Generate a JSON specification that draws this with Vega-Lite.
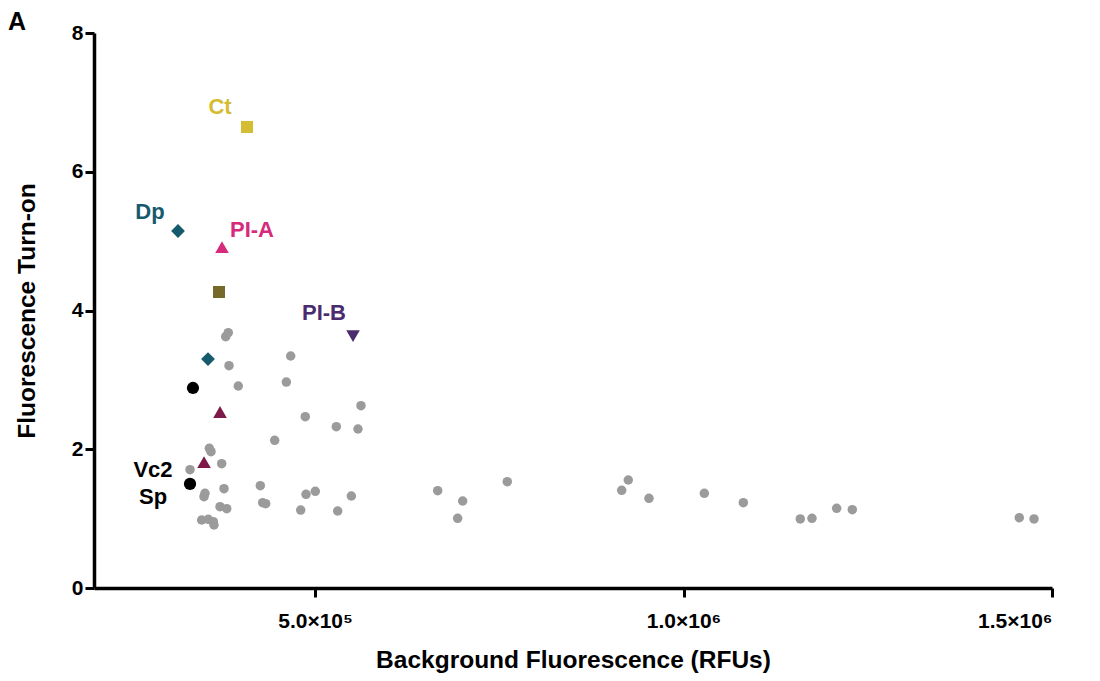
{
  "$schema": "https://vega.github.io/schema/vega-lite/v6.json",
  "width": 958,
  "height": 555,
  "autosize": {"type": "none"},
  "padding": {"left": 94, "top": 33, "right": 48, "bottom": 93},
  "background": "white",
  "config": {
    "view": {"stroke": null},
    "font": "Liberation Sans",
    "axis": {
      "grid": false,
      "domainColor": "black",
      "domainWidth": 3.5,
      "tickColor": "black",
      "tickWidth": 3,
      "tickSize": 9,
      "labelColor": "black",
      "labelFont": "Liberation Sans",
      "labelFontWeight": "bold",
      "labelFontSize": 21,
      "titleColor": "black",
      "titleFont": "Liberation Sans",
      "titleFontWeight": "bold",
      "titleFontSize": 24.5
    }
  },
  "title": {
    "text": "A",
    "anchor": "start",
    "frame": "group",
    "fontSize": 25,
    "fontWeight": "bold",
    "font": "Liberation Sans",
    "color": "black",
    "dx": -86,
    "dy": 13,
    "offset": 0
  },
  "datasets": {
    "pts": [
      {"x": 378700, "y": 3.622, "g": "other"},
      {"x": 382200, "y": 3.680, "g": "other"},
      {"x": 383200, "y": 3.204, "g": "other"},
      {"x": 395800, "y": 2.912, "g": "other"},
      {"x": 466900, "y": 3.344, "g": "other"},
      {"x": 461000, "y": 2.969, "g": "other"},
      {"x": 562300, "y": 2.628, "g": "other"},
      {"x": 486700, "y": 2.469, "g": "other"},
      {"x": 528800, "y": 2.325, "g": "other"},
      {"x": 558200, "y": 2.292, "g": "other"},
      {"x": 445200, "y": 2.129, "g": "other"},
      {"x": 356500, "y": 2.014, "g": "other"},
      {"x": 358800, "y": 1.965, "g": "other"},
      {"x": 373300, "y": 1.792, "g": "other"},
      {"x": 330300, "y": 1.705, "g": "other"},
      {"x": 376400, "y": 1.431, "g": "other"},
      {"x": 425700, "y": 1.475, "g": "other"},
      {"x": 350600, "y": 1.365, "g": "other"},
      {"x": 349300, "y": 1.316, "g": "other"},
      {"x": 487700, "y": 1.351, "g": "other"},
      {"x": 500300, "y": 1.394, "g": "other"},
      {"x": 549200, "y": 1.326, "g": "other"},
      {"x": 371000, "y": 1.172, "g": "other"},
      {"x": 380100, "y": 1.143, "g": "other"},
      {"x": 428900, "y": 1.230, "g": "other"},
      {"x": 433000, "y": 1.215, "g": "other"},
      {"x": 480500, "y": 1.124, "g": "other"},
      {"x": 530700, "y": 1.110, "g": "other"},
      {"x": 346100, "y": 0.980, "g": "other"},
      {"x": 355100, "y": 0.990, "g": "other"},
      {"x": 361900, "y": 0.956, "g": "other"},
      {"x": 362800, "y": 0.908, "g": "other"},
      {"x": 666400, "y": 1.403, "g": "other"},
      {"x": 700300, "y": 1.254, "g": "other"},
      {"x": 693500, "y": 1.005, "g": "other"},
      {"x": 760800, "y": 1.532, "g": "other"},
      {"x": 916100, "y": 1.408, "g": "other"},
      {"x": 925000, "y": 1.557, "g": "other"},
      {"x": 953100, "y": 1.293, "g": "other"},
      {"x": 1028200, "y": 1.365, "g": "other"},
      {"x": 1081100, "y": 1.230, "g": "other"},
      {"x": 1158400, "y": 0.995, "g": "other"},
      {"x": 1174300, "y": 1.005, "g": "other"},
      {"x": 1207800, "y": 1.149, "g": "other"},
      {"x": 1229000, "y": 1.129, "g": "other"},
      {"x": 1455600, "y": 1.013, "g": "other"},
      {"x": 1475600, "y": 0.995, "g": "other"},
      {"x": 407600, "y": 6.645, "g": "Ct"},
      {"x": 314000, "y": 5.146, "g": "Dp"},
      {"x": 373700, "y": 4.915, "g": "PI-A"},
      {"x": 369600, "y": 4.267, "g": "olive"},
      {"x": 551500, "y": 3.632, "g": "PI-B"},
      {"x": 354700, "y": 3.300, "g": "Dp"},
      {"x": 334300, "y": 2.883, "g": "black"},
      {"x": 371000, "y": 2.537, "g": "wine"},
      {"x": 349300, "y": 1.816, "g": "wine"},
      {"x": 330300, "y": 1.500, "g": "black"}
    ],
    "labels": [
      {"x": 371000, "y": 6.933, "label": "Ct", "g": "Ct"},
      {"x": 276000, "y": 5.42, "label": "Dp", "g": "Dp"},
      {"x": 414400, "y": 5.16, "label": "PI-A", "g": "PI-A"},
      {"x": 512100, "y": 3.964, "label": "PI-B", "g": "PI-B"},
      {"x": 280100, "y": 1.70, "label": "Vc2", "g": "black"},
      {"x": 280100, "y": 1.31, "label": "Sp", "g": "black"}
    ]
  },
  "layer": [
    {
      "data": {"name": "pts"},
      "mark": {"type": "point", "filled": true, "opacity": 1, "strokeWidth": 0},
      "encoding": {
        "x": {
          "field": "x", "type": "quantitative",
          "scale": {"domain": [200000, 1500000], "nice": false, "zero": false},
          "axis": {
            "values": [500000, 1000000, 1500000],
            "labelExpr": "datum.value == 500000 ? '5.0×10⁵' : datum.value == 1000000 ? '1.0×10⁶' : '1.5×10⁶'",
            "labelPadding": 13,
            "title": "Background Fluorescence (RFUs)",
            "titlePadding": 17
          }
        },
        "y": {
          "field": "y", "type": "quantitative",
          "scale": {"domain": [0, 8], "nice": false},
          "axis": {
            "values": [0, 2, 4, 6, 8],
            "format": "d",
            "labelPadding": 2,
            "title": "Fluorescence Turn-on",
            "titlePadding": 32
          }
        },
        "color": {
          "field": "g", "type": "nominal", "legend": null,
          "scale": {
            "domain": ["other", "Ct", "Dp", "PI-A", "olive", "PI-B", "black", "wine"],
            "range": ["#9B9B9B", "#D4BC33", "#165A6E", "#D62A7C", "#766A2B", "#4A2C6E", "#000000", "#7E1A4A"]
          }
        },
        "shape": {
          "field": "g", "type": "nominal", "legend": null,
          "scale": {
            "domain": ["other", "Ct", "Dp", "PI-A", "olive", "PI-B", "black", "wine"],
            "range": ["circle", "square", "diamond", "triangle-up", "square", "triangle-down", "circle", "triangle-up"]
          }
        },
        "size": {
          "field": "g", "type": "nominal", "legend": null,
          "scale": {
            "type": "ordinal",
            "domain": ["other", "Ct", "Dp", "PI-A", "olive", "PI-B", "black", "wine"],
            "range": [90, 144, 190, 185, 144, 185, 150, 185]
          }
        }
      }
    },
    {
      "data": {"name": "labels"},
      "mark": {"type": "text", "fontSize": 22, "fontWeight": "bold", "font": "Liberation Sans", "baseline": "middle", "align": "center"},
      "encoding": {
        "x": {"field": "x", "type": "quantitative"},
        "y": {"field": "y", "type": "quantitative"},
        "text": {"field": "label"},
        "color": {
          "field": "g", "type": "nominal", "legend": null,
          "scale": {
            "domain": ["other", "Ct", "Dp", "PI-A", "olive", "PI-B", "black", "wine"],
            "range": ["#9B9B9B", "#D4BC33", "#1E6379", "#D62A7C", "#766A2B", "#4A2C6E", "#000000", "#7E1A4A"]
          }
        }
      }
    }
  ]
}
